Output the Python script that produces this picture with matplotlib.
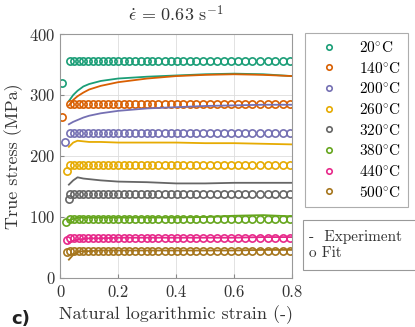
import matplotlib
matplotlib.use("Agg")
import matplotlib.pyplot as plt
from matplotlib.patches import Rectangle

plt.rcParams['font.family'] = ['cmr10', 'DejaVu Serif']
plt.rcParams['mathtext.fontset'] = 'cm'
plt.rcParams['axes.formatter.use_mathtext'] = True

temps = ['20', '140', '200', '260', '320', '380', '440', '500']
colors = ['#1b9e77', '#d95f02', '#7570b3', '#e6ab02', '#666666', '#66a61e', '#e7298a', '#a6761d']

# fit: first point differs, then plateau
fit_x0 = [0.006, 0.008, 0.017, 0.025, 0.030, 0.020, 0.022, 0.023]
fit_y0 = [320, 264, 223, 176, 130, 92, 63, 43]
fit_plateau = [356, 285, 237, 186, 138, 97, 66, 45]
fit_x = [0.033, 0.048, 0.064, 0.080, 0.096, 0.113, 0.130, 0.147, 0.165, 0.183,
         0.201, 0.220, 0.239, 0.258, 0.278, 0.298, 0.318, 0.339, 0.360, 0.381,
         0.403, 0.425, 0.447, 0.470, 0.493, 0.516, 0.540, 0.564, 0.588, 0.613,
         0.638, 0.663, 0.689, 0.715, 0.741, 0.767, 0.794]

# experiment curves
exp_x = [0.03, 0.045, 0.06, 0.08, 0.1, 0.14, 0.2, 0.3, 0.4, 0.5, 0.6, 0.7, 0.8]
exp_y = [
    [290, 300, 307, 314, 318, 323, 327, 330, 332, 334, 335, 334, 331],
    [283, 292, 298, 304, 309, 315, 321, 327, 331, 333, 334, 333, 331],
    [252, 256, 259, 263, 266, 270, 274, 278, 280, 282, 283, 284, 284],
    [215, 222, 225, 224, 223, 223, 222, 222, 222, 221, 221, 220, 219],
    [153, 160, 165, 163, 162, 160, 158, 157, 155, 155, 156, 156, 156],
    [94, 97, 99, 99, 99, 99, 99, 99, 99, 100, 102, 103, 101],
    [58, 61, 63, 64, 65, 65, 66, 66, 66, 66, 66, 67, 67],
    [30, 38, 43, 44, 44, 45, 45, 45, 45, 45, 45, 46, 46],
]

fig = plt.figure(figsize=(4.15, 3.27), dpi=100)
ax = fig.add_axes([0.145, 0.150, 0.559, 0.746])

for i in range(len(temps)):
    c = colors[i]
    ax.plot(exp_x, exp_y[i], color=c, lw=1.3)
    xs = [fit_x0[i]] + fit_x
    ys = [fit_y0[i]] + [fit_plateau[i]] * len(fit_x)
    ax.plot(xs, ys, ls='none', marker='o', mfc='none', mec=c, ms=5.2, mew=1.2,
            label=temps[i] + r'$^{\circ}$C')

ax.set_xlim(0, 0.8)
ax.set_ylim(0, 400)
ax.set_xticks([0, 0.2, 0.4, 0.6, 0.8])
ax.set_xticklabels(['0', '0.2', '0.4', '0.6', '0.8'])
ax.set_yticks([0, 100, 200, 300, 400])
ax.grid(True, color='#dddddd', lw=0.6)
ax.tick_params(direction='in', length=3, color='#888888', labelsize=12, labelcolor='#333333')
ax.tick_params(axis='x', pad=5)
for s in ax.spines.values():
    s.set_color('#999999')
ax.set_xlabel('Natural logarithmic strain (-)', fontsize=13, color='#333333', labelpad=4)
ax.set_ylabel('True stress (MPa)', fontsize=13, color='#333333', labelpad=4)
ax.set_title(r'$\dot{\epsilon}\, =\, 0.63\ \mathrm{s}^{-1}$', fontsize=13, color='#333333', pad=9)

leg = ax.legend(loc='upper left', bbox_to_anchor=(1.056, 1.003), borderaxespad=0,
                fontsize=11, handlelength=2.2, handletextpad=0.9,
                labelspacing=0.37, borderpad=0.45,
                fancybox=False, edgecolor='#999999', markerscale=0.75)
leg.get_frame().set_linewidth(0.8)

fig.patches.append(Rectangle((0.730, 0.174), 0.30, 0.153, transform=fig.transFigure,
                             fc='white', ec='#999999', lw=0.8, clip_on=False))
fig.text(0.745, 0.251, '-  Experiment\no Fit', fontsize=11, color='#333333',
         va='center', ha='left', linespacing=1.15)

fig.text(0.026, 0.01, 'c)', fontsize=13, fontweight='bold', family='DejaVu Sans',
         color='#222222')

fig.savefig('out.png', dpi=100)
